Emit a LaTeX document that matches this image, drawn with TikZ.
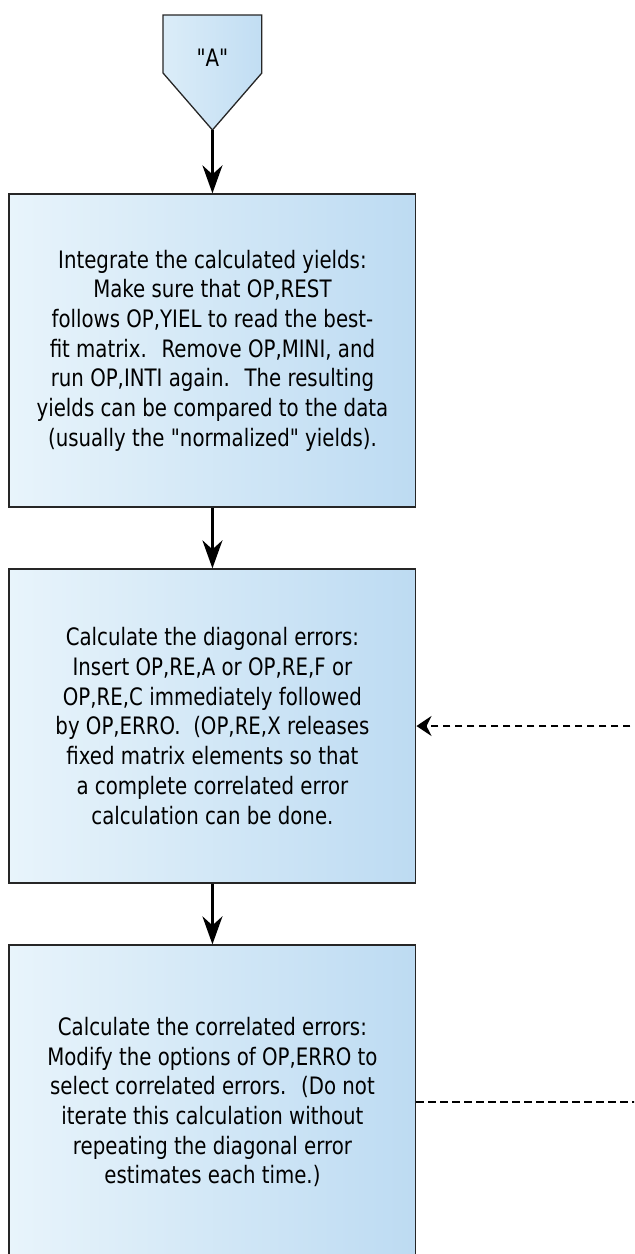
\documentclass[tikz,border=0pt]{standalone}
\usepackage{fontspec}
\setmainfont{DejaVu Sans}[FakeStretch=0.8234, Ligatures=TeXOff]
\usetikzlibrary{arrows.meta}

\definecolor{boxlight}{RGB}{232,244,251}
\definecolor{boxdark}{RGB}{189,219,242}

\begin{document}
\begin{tikzpicture}[x=0.8234pt,y=-1pt,
  stepbox/.style={draw=black!85, line width=1.3pt, left color=boxlight, right color=boxdark,
    minimum width=406.8pt, minimum height=314pt, align=center, inner sep=0pt,
    font=\fontsize{24}{29.7}\selectfont},
  flow/.style={line width=2.5pt, -{Stealth[length=28pt,width=20pt,inset=9pt]}},
  back/.style={dashed, dash pattern=on 7.5pt off 4.5pt, line width=2pt}]
  \clip (0,0) rectangle (770,1254);
  % off-page connector "A"
  \draw[draw=black!85, line width=1.3pt, left color=boxlight!70!boxdark, right color=boxdark!90!boxlight]
    (198,15) -- (318,15) -- (318,73) -- (258,130) -- (198,73) -- cycle;
  \node[font=\fontsize{24}{28}\selectfont] (qa) at (258,58) {"A"};
  \coordinate (qatip) at (258,130);
  % the three steps
  \node[stepbox, minimum height=313pt] (integ) at (258,350.5) {Integrate the calculated yields:\\
    Make sure that OP,REST\\
    follows OP,YIEL to read the best-\\
    fit matrix.~ Remove OP,MINI, and\\
    run OP,INTI again.~ The resulting\\
    yields can be compared to the data\\
    (usually the "normalized" yields).};
  \node[stepbox] (diag) at (258,726) {Calculate the diagonal errors:\\
    Insert OP,RE,A or OP,RE,F or\\
    OP,RE,C immediately followed\\
    by OP,ERRO.~ (OP,RE,X releases\\
    fixed matrix elements so that\\
    a complete correlated error\\
    calculation can be done.};
  \node[stepbox] (corr) at (258,1102) {Calculate the correlated errors:\\
    Modify the options of OP,ERRO to\\
    select correlated errors.~ (Do not\\
    iterate this calculation without\\
    repeating the diagonal error\\
    estimates each time.)};
  \draw[flow] (qatip) -- (integ.north);
  \draw[flow] (integ.south) -- (diag.north);
  \draw[flow] (diag.south) -- (corr.north);
  % loop back from the right
  \coordinate (diagin) at (780,726);
  \coordinate (corrout) at (780,1102);
  \draw[back, -{Stealth[length=15pt,width=20pt,inset=5pt]}] (diagin) -- (diag.east);
  \draw[back] (corr.east) -- (corrout);
\end{tikzpicture}
\end{document}
